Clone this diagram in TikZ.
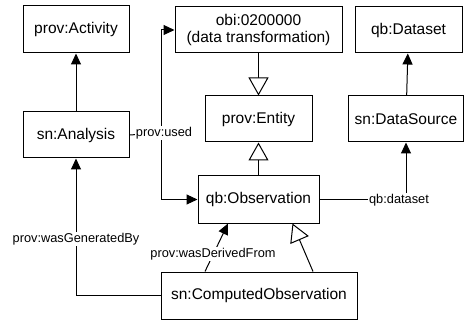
\documentclass[tikz,border=0pt]{standalone}
\usepackage{fontspec}
\setmainfont{Liberation Sans}
\usetikzlibrary{arrows.meta}
\tikzset{
  box/.style={draw, line width=1pt, fill=white, inner sep=0pt, align=center,
    font=\fontsize{15.5}{17.5}\selectfont},
  lbl/.style={fill=white, inner sep=1pt, font=\fontsize{12.8}{14}\selectfont},
  conn/.style={line width=1pt},
  arr/.style={conn, -{Triangle[width=10pt,length=11pt]}},
  gen/.style={conn, -{Triangle[open,fill=white,width=20pt,length=18pt]}}
}
\begin{document}
\begin{tikzpicture}[x=1pt,y=-1pt]
\useasboundingbox (0,0) rectangle (465,320);
\node[box, minimum width=106pt, minimum height=47pt] (act) at (76,29.5) {prov:Activity};
\node[box, minimum width=167pt, minimum height=46pt] (obi) at (258.5,30) {obi:0200000\\(data transformation)};
\node[box, minimum width=107pt, minimum height=46pt] (ds) at (408.5,30) {qb:Dataset};
\node[box, minimum width=106pt, minimum height=46pt] (ana) at (76,135) {sn:Analysis};
\node[box, minimum width=107pt, minimum height=46pt] (ent) at (258.5,119) {prov:Entity};
\node[box, minimum width=115pt, minimum height=46pt] (dsrc) at (406,119) {sn:DataSource};
\node[box, minimum width=121pt, minimum height=47pt] (obs) at (258.5,199.5) {qb:Observation};
\node[box, minimum width=196pt, minimum height=47pt] (cobs) at (259,295.5) {sn:ComputedObservation};

\coordinate (j) at (161,133);
\coordinate (dcorner) at (dsrc.south |- obs.east);

% edges
\draw[arr] (ana) -- (act);
\draw[arr] (dsrc) -- (ds);
\draw[gen] (obi) -- (ent);
\draw[gen] (obs) -- (ent);
\draw[conn] (ana.east) -- (j);
\draw[arr] (j) |- (obi.west);
\draw[arr] (j) |- (obs.west);
\draw[arr] (obs.east) -- (dcorner) -- (dsrc.south);
\draw[arr] (cobs.west) -| (ana.south);
\draw[arr] ([xshift=-54pt]cobs.north) -- ([xshift=-30.5pt]obs.south);
\draw[gen] ([xshift=54pt]cobs.north) -- ([xshift=34pt]obs.south);

% labels
\node[lbl] (lused) at (164,133) {prov:used};
\node[lbl] (ldataset) at (399,200) {qb:dataset};
\node[lbl] (lgen) at (76,239) {prov:wasGeneratedBy};
\node[lbl] (lder) at (213,254) {prov:wasDerivedFrom};
\end{tikzpicture}
\end{document}
